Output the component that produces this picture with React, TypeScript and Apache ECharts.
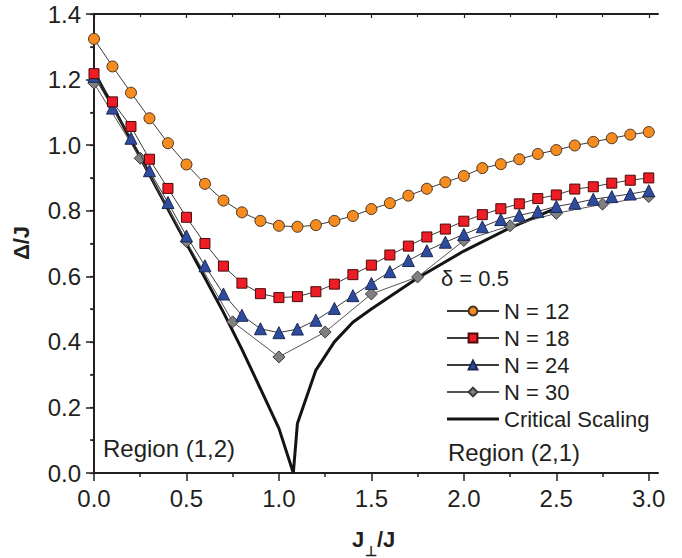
import React, { useEffect, useRef } from "react";
import * as echarts from "echarts";

// J_perp / J sampling for the three finer system sizes
const X_FINE = [
  0, 0.1, 0.2, 0.3, 0.4, 0.5, 0.6, 0.7, 0.8, 0.9, 1.0, 1.1, 1.2, 1.3, 1.4, 1.5,
  1.6, 1.7, 1.8, 1.9, 2.0, 2.1, 2.2, 2.3, 2.4, 2.5, 2.6, 2.7, 2.8, 2.9, 3.0,
];
// coarser sampling used for N = 30
const X_COARSE = [0, 0.25, 0.5, 0.75, 1.0, 1.25, 1.5, 1.75, 2.0, 2.25, 2.5, 2.75, 3.0];

const GAP_N12 = [
  1.324, 1.24, 1.16, 1.082, 1.006, 0.941, 0.882, 0.831, 0.795, 0.769, 0.754,
  0.751, 0.756, 0.769, 0.784, 0.805, 0.823, 0.846, 0.867, 0.887, 0.906, 0.93,
  0.942, 0.957, 0.973, 0.985, 0.999, 1.01, 1.021, 1.032, 1.04,
];
const GAP_N18 = [
  1.218, 1.132, 1.057, 0.957, 0.868, 0.78, 0.7, 0.631, 0.579, 0.547, 0.535,
  0.538, 0.553, 0.576, 0.605, 0.634, 0.665, 0.692, 0.72, 0.744, 0.768, 0.788,
  0.806, 0.821, 0.837, 0.848, 0.866, 0.873, 0.884, 0.893, 0.9,
];
const GAP_N24 = [
  1.21, 1.113, 1.021, 0.922, 0.825, 0.723, 0.632, 0.546, 0.481, 0.44, 0.428,
  0.439, 0.466, 0.502, 0.541, 0.578, 0.614, 0.648, 0.678, 0.704, 0.728, 0.751,
  0.773, 0.786, 0.798, 0.813, 0.823, 0.835, 0.843, 0.851, 0.861,
];
const GAP_N30 = [1.189, 0.96, 0.706, 0.461, 0.354, 0.43, 0.546, 0.598, 0.709, 0.754, 0.792, 0.82, 0.843];

// critical scaling curve
const CRIT_X = [0, 0.25, 0.5, 0.7, 0.8, 0.9, 1.0, 1.078, 1.1, 1.2, 1.3, 1.4, 1.5, 1.75, 2.0, 2.25, 2.5];
const CRIT_Y = [1.225, 0.962, 0.7, 0.49, 0.377, 0.257, 0.136, 0.0, 0.151, 0.314, 0.4, 0.46, 0.5, 0.595, 0.677, 0.748, 0.808];

const X_MAJOR = [0, 0.5, 1.0, 1.5, 2.0, 2.5, 3.0];
const X_MINOR = [0.25, 0.75, 1.25, 1.75, 2.25, 2.75];

const SERIES_NAMES = ["N = 12", "N = 18", "N = 24", "N = 30", "Critical Scaling"];

const FONT = "'Liberation Sans', Arial, Helvetica, sans-serif";
const INK = "#231F20";

const zip = (xs: number[], ys: number[]) => xs.map((x, i) => [x, ys[i]]);

export default function App() {
  const ref = useRef<HTMLDivElement>(null);

  useEffect(() => {
    if (!ref.current) return;
    const chart = echarts.init(ref.current, undefined, { renderer: "svg" });

    const xBase = {
      type: "value" as const,
      min: 0,
      max: 3.05,
      interval: 0.5,
      splitLine: { show: false },
    };

    const markerLine = { color: "#3a3a3a", width: 1 };

    chart.setOption({
      animation: false,
      backgroundColor: "#ffffff",
      grid: { left: 94, right: 24, top: 14, bottom: 85, containLabel: false },
      xAxis: [
        {
          ...xBase,
          position: "bottom",
          axisLine: { show: true, lineStyle: { color: INK, width: 2 } },
          axisTick: { show: true, length: 8, lineStyle: { color: INK, width: 1.5 }, customValues: X_MAJOR },
          axisLabel: {
            show: true,
            customValues: X_MAJOR,
            formatter: (v: number) => v.toFixed(1),
            fontSize: 24,
            fontFamily: FONT,
            color: INK,
            margin: 13,
          },
        },
        {
          ...xBase,
          position: "bottom",
          axisLine: { show: false },
          axisTick: { show: true, length: 4, lineStyle: { color: INK, width: 1.5 }, customValues: X_MINOR },
          axisLabel: { show: false },
        },
        {
          ...xBase,
          position: "top",
          axisLine: { show: true, lineStyle: { color: INK, width: 2 } },
          axisTick: { show: true, inside: true, length: 4, lineStyle: { color: INK, width: 1.2 }, customValues: X_MAJOR },
          axisLabel: { show: false },
        },
        {
          ...xBase,
          position: "top",
          axisLine: { show: false },
          axisTick: { show: true, inside: true, length: 3, lineStyle: { color: INK, width: 1.2 }, customValues: X_MINOR },
          axisLabel: { show: false },
        },
      ],
      yAxis: [
        {
          type: "value",
          position: "left",
          min: 0,
          max: 1.4,
          interval: 0.2,
          splitLine: { show: false },
          axisLine: { show: true, lineStyle: { color: INK, width: 2 } },
          axisTick: { show: true, length: 8, lineStyle: { color: INK, width: 1.5 } },
          minorTick: { show: true, splitNumber: 2, length: 4, lineStyle: { color: INK, width: 1.5 } },
          axisLabel: {
            formatter: (v: number) => v.toFixed(1),
            fontSize: 24,
            fontFamily: FONT,
            color: INK,
            margin: 13,
          },
        },
        {
          type: "value",
          position: "right",
          min: 0,
          max: 1.4,
          interval: 0.2,
          splitLine: { show: false },
          axisLine: { show: true, lineStyle: { color: INK, width: 2 } },
          axisTick: { show: true, inside: true, length: 4, lineStyle: { color: INK, width: 1.2 } },
          minorTick: { show: true, splitNumber: 2, length: 3, lineStyle: { color: INK, width: 1.2 } },
          axisLabel: { show: false },
        },
      ],
      legend: {
        orient: "vertical",
        left: 441,
        top: 295,
        itemWidth: 52,
        itemHeight: 11,
        itemGap: 5,
        data: [
          ...SERIES_NAMES.slice(0, 4),
          { name: SERIES_NAMES[4], icon: "path://M0,0H52V3.2H0Z" },
        ],
        textStyle: { fontSize: 22, fontFamily: FONT, color: INK, lineHeight: 22 },
        selectedMode: false,
      },
      series: [
        {
          name: SERIES_NAMES[4],
          type: "line",
          data: zip(CRIT_X, CRIT_Y),
          showSymbol: false,
          symbol: "none",
          lineStyle: { color: "#141414", width: 3 },
          itemStyle: { color: "#141414" },
          z: 2,
        },
        {
          name: SERIES_NAMES[3],
          type: "line",
          data: zip(X_COARSE, GAP_N30),
          symbol: "diamond",
          symbolSize: 12,
          lineStyle: { ...markerLine, color: "#555" },
          itemStyle: { color: "#808080", borderColor: "#3c3c3c", borderWidth: 1 },
          z: 3,
        },
        {
          name: SERIES_NAMES[2],
          type: "line",
          data: zip(X_FINE, GAP_N24),
          symbol: "triangle",
          symbolSize: 12,
          lineStyle: markerLine,
          itemStyle: { color: "#2F4B9E", borderColor: "#1c2a55", borderWidth: 1 },
          z: 4,
        },
        {
          name: SERIES_NAMES[1],
          type: "line",
          data: zip(X_FINE, GAP_N18),
          symbol: "rect",
          symbolSize: 10,
          lineStyle: markerLine,
          itemStyle: { color: "#EE1C25", borderColor: "#4a0a0a", borderWidth: 1 },
          z: 5,
        },
        {
          name: SERIES_NAMES[0],
          type: "line",
          data: zip(X_FINE, GAP_N12),
          symbol: "circle",
          symbolSize: 11,
          lineStyle: markerLine,
          itemStyle: { color: "#F68B1F", borderColor: "#4a3520", borderWidth: 1 },
          z: 6,
        },
      ],
      graphic: [
        {
          type: "text",
          x: 441,
          y: 278,
          style: { text: "δ = 0.5", font: `22px ${FONT}`, fill: INK, textVerticalAlign: "middle" },
        },
        {
          type: "text",
          x: 103,
          y: 448,
          style: { text: "Region (1,2)", font: `24px ${FONT}`, fill: INK, textVerticalAlign: "middle" },
        },
        {
          type: "text",
          x: 448,
          y: 452,
          style: { text: "Region (2,1)", font: `24px ${FONT}`, fill: INK, textVerticalAlign: "middle" },
        },
        {
          type: "text",
          x: 21,
          y: 243,
          rotation: Math.PI / 2,
          style: {
            text: "Δ/J",
            font: `bold 22px ${FONT}`,
            fill: INK,
            textAlign: "center",
            textVerticalAlign: "middle",
          },
        },
        {
          type: "text",
          x: 352,
          y: 539,
          style: { text: "J", font: `bold 22px ${FONT}`, fill: INK, textVerticalAlign: "middle" },
        },
        {
          type: "text",
          x: 365,
          y: 551,
          style: { text: "⊥", font: `bold 14px ${FONT}`, fill: INK, textVerticalAlign: "middle" },
        },
        {
          type: "text",
          x: 377,
          y: 539,
          style: { text: "/J", font: `bold 22px ${FONT}`, fill: INK, textVerticalAlign: "middle" },
        },
      ],
    });

    return () => chart.dispose();
  }, []);

  return (
    <div
      ref={ref}
      style={{ position: "fixed", left: 0, top: 0, width: 682, height: 558, background: "#fff" }}
    />
  );
}
